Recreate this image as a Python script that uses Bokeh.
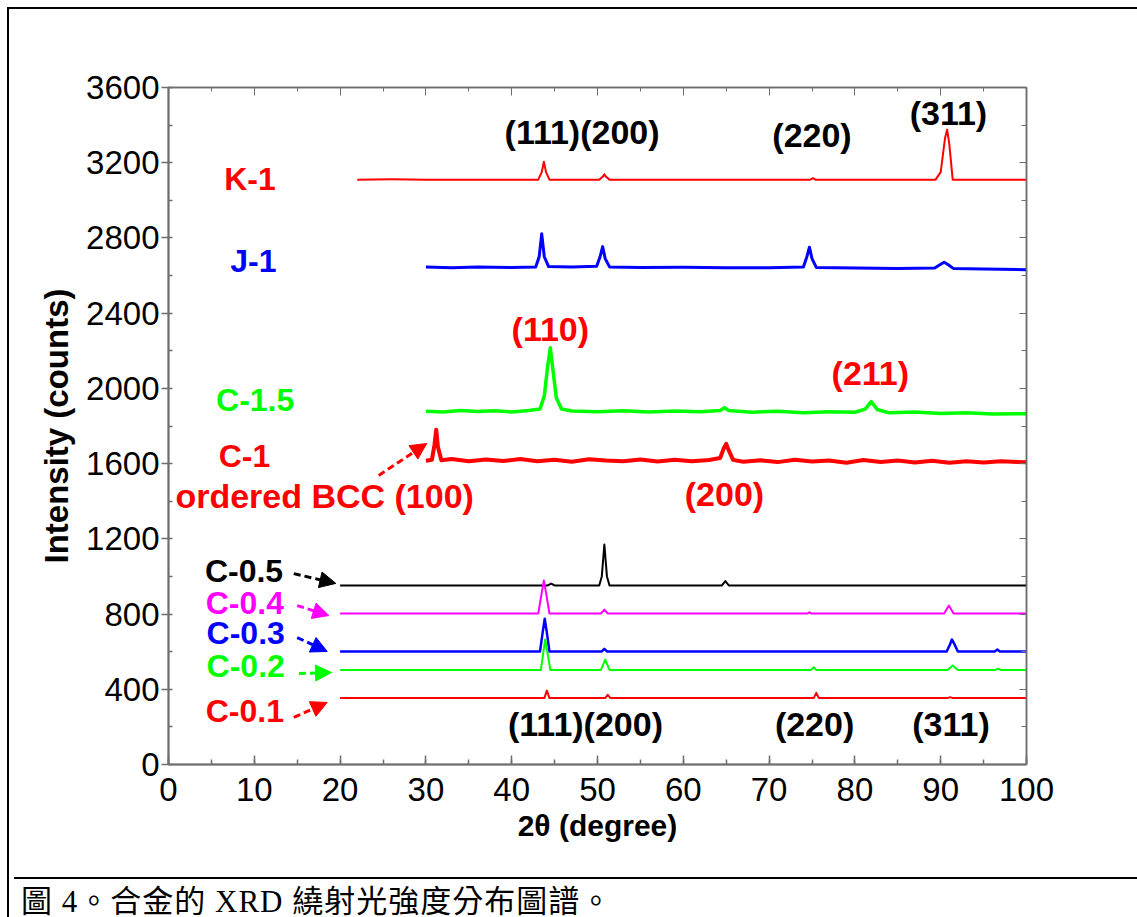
from bokeh.plotting import figure
from bokeh.models import (LinearAxis, SingleIntervalTicker, Arrow, NormalHead, Div, Range1d,
                          CustomJSTickFormatter)
from bokeh.layouts import column
from bokeh.core.properties import value
from bokeh.embed import file_html
from bokeh.resources import INLINE

# ---------------- data ----------------
k1_x = [22, 26, 30, 43.1, 43.5, 43.75, 44.0, 44.4, 50.2, 50.6, 50.8, 51.0, 51.4, 74.8, 75.1, 75.4,
        89.4, 90.0, 90.5, 90.75, 91.0, 91.4, 100]
k1_y = [3110, 3112, 3110, 3110, 3150, 3205, 3150, 3110, 3110, 3125, 3138, 3125, 3110, 3110, 3118, 3110,
        3110, 3150, 3330, 3376, 3300, 3110, 3110]

j1_x = [30, 33, 36, 40, 42.8, 43.2, 43.5, 43.8, 44.3, 47, 49.9, 50.3, 50.6, 50.9, 51.4, 55, 60, 65, 70,
        74.0, 74.4, 74.7, 75.0, 75.5, 80, 85, 89.3, 90.0, 90.4, 90.8, 91.5, 95, 100]
j1_y = [2645, 2642, 2646, 2643, 2646, 2700, 2822, 2700, 2648, 2645, 2650, 2700, 2754, 2690, 2646, 2643,
        2644, 2642, 2641, 2645, 2700, 2751, 2690, 2643, 2640, 2638, 2640, 2660, 2671, 2660, 2637, 2635, 2631]

c15_x = [30, 32, 34, 36, 38, 40, 42, 43.3, 43.8, 44.2, 44.5, 44.8, 45.2, 45.8, 47, 50, 53, 56, 59, 62,
         64.3, 64.8, 65.3, 68, 71, 74, 77, 80, 81.2, 81.9, 82.6, 84, 87, 90, 93, 96, 100]
c15_y = [1879, 1875, 1882, 1877, 1881, 1875, 1882, 1890, 1960, 2120, 2216, 2100, 1950, 1890, 1880, 1876,
         1881, 1874, 1880, 1876, 1883, 1897, 1882, 1873, 1879, 1871, 1876, 1873, 1890, 1930, 1888, 1870,
         1874, 1867, 1871, 1864, 1865]

c1_x = [30, 30.7, 31.0, 31.2, 31.4, 31.8, 33, 35, 37, 39, 41, 43, 45, 47, 49, 51, 53, 55, 57, 59, 61, 63,
        64.3, 64.7, 65.0, 65.3, 65.8, 67, 69, 71, 73, 75, 77, 79, 81, 83, 85, 87, 89, 91, 93, 95, 97, 100]
c1_y = [1615, 1620, 1700, 1780, 1690, 1618, 1625, 1612, 1622, 1614, 1624, 1613, 1621, 1610, 1623, 1616,
        1612, 1622, 1611, 1620, 1613, 1619, 1630, 1680, 1705, 1670, 1620, 1610, 1618, 1608, 1621, 1611,
        1617, 1605, 1619, 1609, 1616, 1606, 1615, 1604, 1613, 1606, 1612, 1607]

c05_x = [20, 44.2, 44.6, 45.0, 50.2, 50.5, 50.8, 51.1, 51.4, 64.5, 64.9, 65.3, 100]
c05_y = [952, 952, 962, 952, 952, 1000, 1170, 1000, 952, 952, 975, 952, 952]

c04_x = [20, 43.1, 43.45, 43.75, 44.05, 44.4, 50.4, 50.8, 51.2, 74.5, 74.7, 74.9, 90.4, 90.95, 91.5, 100]
c04_y = [803, 803, 900, 978, 900, 803, 803, 824, 803, 803, 810, 803, 803, 845, 803, 803]

c03_x = [20, 43.3, 43.6, 43.85, 44.1, 44.4, 50.5, 50.8, 51.1, 90.7, 91.1, 91.3, 91.6, 92.0, 96.3, 96.6, 96.9, 100]
c03_y = [601, 601, 700, 775, 700, 601, 601, 615, 601, 601, 640, 665, 640, 601, 601, 611, 601, 601]

c02_x = [20, 43.4, 43.7, 43.9, 44.15, 44.5, 50.4, 50.9, 51.4, 74.9, 75.2, 75.5, 90.8, 91.4, 92.0, 96.4, 96.7, 97.0, 100]
c02_y = [503, 503, 600, 665, 600, 503, 503, 558, 503, 503, 517, 503, 503, 526, 503, 503, 510, 503, 503]

c01_x = [20, 43.8, 44.1, 44.4, 50.9, 51.2, 51.5, 75.2, 75.5, 75.8, 90.8, 91.1, 91.4, 100]
c01_y = [353, 353, 393, 353, 353, 371, 353, 353, 381, 353, 353, 358, 353, 353]

series_x = [k1_x, j1_x, c15_x, c1_x, c05_x, c04_x, c03_x, c02_x, c01_x]
series_y = [k1_y, j1_y, c15_y, c1_y, c05_y, c04_y, c03_y, c02_y, c01_y]
series_color = ["#ff0000", "#0000ff", "#00ff00", "#ff0000", "#000000", "#ff00ff", "#0000ff", "#00ff00", "#ff0000"]
series_width = [2, 3, 3.5, 4, 2, 2, 2.5, 2, 2]

# sample labels
sample_text = ["K-1", "J-1", "C-1.5", "C-1", "C-0.5", "C-0.4", "C-0.3", "C-0.2", "C-0.1"]
sample_x = [9.5, 9.9, 10.1, 8.85, 8.8, 8.9, 9.0, 9.0, 8.9]
sample_y = [3116, 2677, 1936, 1638, 1029, 859, 697, 524, 287]
sample_color = ["#ff0000", "#0000ff", "#00ff00", "#ff0000", "#000000", "#ff00ff", "#0000ff", "#00ff00", "#ff0000"]

bcc_text = ["ordered BCC (100)"]
bcc_x = [18.2]
bcc_y = [1430]

# arrows from labels to curves
arrow_x0 = [24.5, 14.6, 15.0, 15.0, 15.2, 14.6]
arrow_y0 = [1537, 1015, 845, 675, 484, 250]
arrow_x1 = [30.1, 19.5, 18.7, 18.5, 19.0, 18.5]
arrow_y1 = [1707, 963, 792, 601, 489, 330]
arrow_color = ["#ff0000", "#000000", "#ff00ff", "#0000ff", "#00ff00", "#ff0000"]

# peak (hkl) labels
peak_text = ["(111)(200)", "(220)", "(311)", "(111)(200)", "(220)", "(311)", "(110)", "(211)", "(200)"]
peak_x = [48.2, 75.0, 90.9, 48.6, 75.3, 91.2, 44.5, 81.8, 64.8]
peak_y = [3361, 3350, 3467, 218, 218, 218, 2318, 2084, 1436]
peak_color = ["#000000"] * 6 + ["#ff0000"] * 3

caption = "圖 4。合金的 XRD 繞射光強度分布圖譜。"

# ---------------- figure ----------------
p = figure(frame_width=858, frame_height=677, x_range=Range1d(0, 100), y_range=Range1d(0, 3600),
           output_backend="svg", toolbar_location=None,
           min_border_left=159, min_border_right=109, min_border_top=78, min_border_bottom=108,
           background_fill_color="white", border_fill_color="white")
p.xgrid.visible = False
p.ygrid.visible = False
p.outline_line_color = "#6e6e6e"
p.outline_line_width = 1.5

AX = "#6e6e6e"
TICKFONT = "Liberation Sans"

xa = p.xaxis[0]
xa.ticker = SingleIntervalTicker(interval=10, num_minor_ticks=2)
xa.axis_line_color = AX
xa.axis_line_width = 2
xa.major_tick_line_color = AX
xa.minor_tick_line_color = AX
xa.major_tick_line_width = 1.5
xa.minor_tick_line_width = 1.5
xa.major_tick_in = 9
xa.major_tick_out = 0
xa.minor_tick_in = 5
xa.minor_tick_out = 0
xa.major_label_text_font = TICKFONT
xa.major_label_text_font_size = "33px"
xa.major_label_text_color = "black"
xa.major_label_standoff = 13
xa.axis_label = "2θ (degree)"
xa.axis_label_text_font = "Liberation Sans"
xa.axis_label_text_font_style = "bold"
xa.axis_label_text_font_size = "30px"
xa.axis_label_text_color = "black"
xa.axis_label_standoff = 5

ya = p.yaxis[0]
ya.ticker = SingleIntervalTicker(interval=400, num_minor_ticks=2)
ya.axis_line_color = AX
ya.axis_line_width = 2
ya.major_tick_line_color = AX
ya.minor_tick_line_color = AX
ya.major_tick_line_width = 1.5
ya.minor_tick_line_width = 1.5
ya.major_tick_in = 0
ya.major_tick_out = 7
ya.minor_tick_in = 4
ya.minor_tick_out = 0
ya.major_label_text_font = TICKFONT
ya.major_label_text_font_size = "33px"
ya.major_label_text_color = "black"
ya.major_label_standoff = 2
ya.axis_label = "Intensity (counts)"
ya.axis_label_text_font = "Liberation Sans"
ya.axis_label_text_font_style = "bold"
ya.axis_label_text_font_size = "33px"
ya.axis_label_text_color = "black"
ya.axis_label_standoff = 8

blank = CustomJSTickFormatter(code="return '';")
top = LinearAxis(ticker=SingleIntervalTicker(interval=10, num_minor_ticks=2), formatter=blank,
                 major_label_standoff=0,
                 axis_line_color=AX, axis_line_width=1.5,
                 major_tick_line_color=AX, minor_tick_line_color=AX,
                 major_tick_in=8, major_tick_out=0, minor_tick_in=4, minor_tick_out=0)
p.add_layout(top, "above")
right = LinearAxis(ticker=SingleIntervalTicker(interval=400, num_minor_ticks=2), formatter=blank,
                   major_label_standoff=0,
                   axis_line_color=AX, axis_line_width=1.5,
                   major_tick_line_color=AX, minor_tick_line_color=AX,
                   major_tick_in=7, major_tick_out=0, minor_tick_in=5, minor_tick_out=0)
p.add_layout(right, "right")

for sx, sy, c, w in zip(series_x, series_y, series_color, series_width):
    p.line(sx, sy, line_color=c, line_width=w, line_join="round")

p.text(x=sample_x, y=sample_y, text=sample_text, text_color=sample_color,
       text_font=value("Liberation Sans"), text_font_style="bold", text_font_size="32px",
       text_align="center", text_baseline="middle")

p.text(x=bcc_x, y=bcc_y, text=bcc_text, text_color="#ff0000",
       text_font=value("Liberation Sans"), text_font_style="bold", text_font_size="34px",
       text_align="center", text_baseline="middle")

p.text(x=peak_x, y=peak_y, text=peak_text, text_color=peak_color,
       text_font=value("Liberation Sans"), text_font_style="bold", text_font_size="34px",
       text_align="center", text_baseline="middle")

for x0, y0, x1, y1, c in zip(arrow_x0, arrow_y0, arrow_x1, arrow_y1, arrow_color):
    p.add_layout(Arrow(end=NormalHead(size=16, fill_color=c, line_color=c, line_width=1),
                       x_start=x0, y_start=y0, x_end=x1, y_end=y1,
                       line_color=c, line_width=3, line_dash="7 4"))

cap = Div(text=caption, width=1126, height=42,
          styles={"border-top": "2px solid black", "font-family": "'Liberation Serif', 'Noto Sans CJK TC'",
                  "font-size": "31px", "letter-spacing": "1px", "padding-left": "7px",
                  "padding-top": "5px", "line-height": "35px", "color": "black",
                  "box-sizing": "border-box"})

lay = column(p, cap, margin=(7, 0, 0, 7),
             styles={"border-left": "2px solid black", "border-top": "2px solid black"})

open("out.html", "w").write(file_html(lay, INLINE))
